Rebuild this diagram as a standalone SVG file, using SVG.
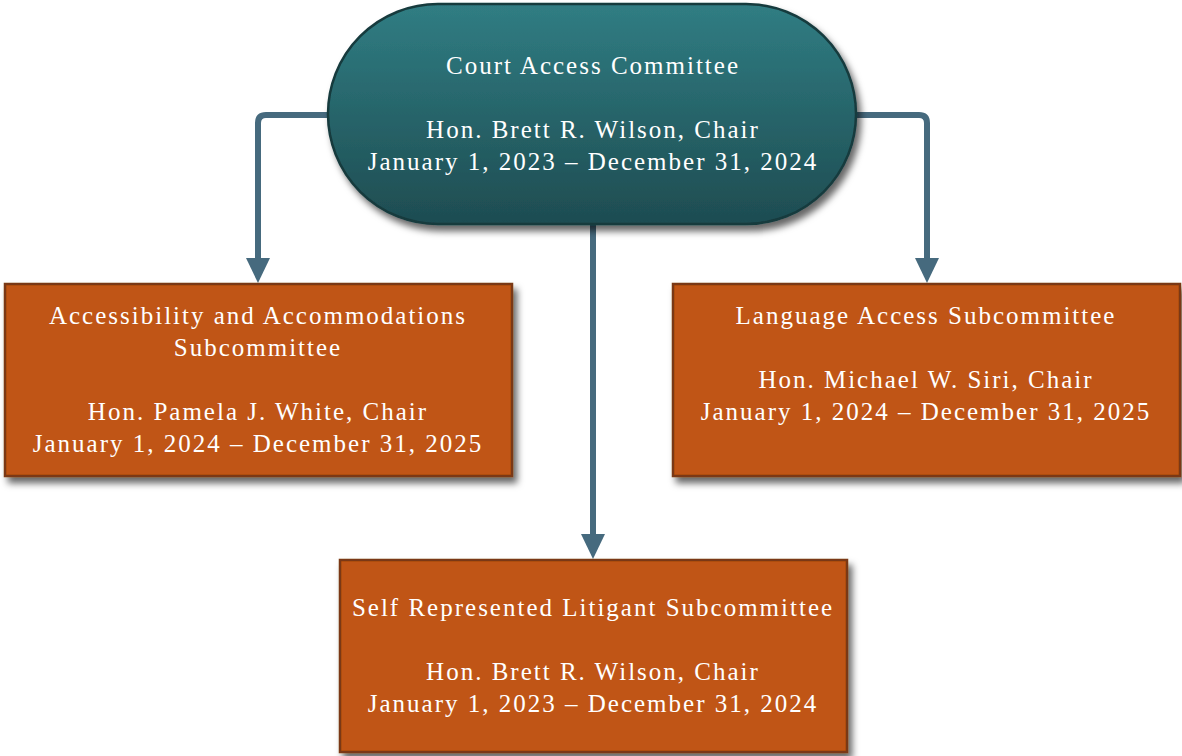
<svg xmlns="http://www.w3.org/2000/svg" width="1182" height="756" viewBox="0 0 1182 756">
<style>
.t{font-family:"Liberation Serif","Times New Roman",serif;font-size:25px;fill:#ffffff;text-anchor:middle;letter-spacing:2px}
.box{fill:#c05412;stroke:#7a3812;stroke-width:2.5}
.pill{fill:url(#pg);stroke:#173a3e;stroke-width:2.5}
.conn{fill:none;stroke:#466a7e;stroke-width:6;stroke-linejoin:round}
.ah{fill:#466a7e}
</style>
<defs>
<linearGradient id="pg" x1="0" y1="0" x2="0" y2="1">
<stop offset="0" stop-color="#307d83"/>
<stop offset="1" stop-color="#1e4c51"/>
</linearGradient>
<filter id="sh" x="-10%" y="-10%" width="125%" height="130%">
<feDropShadow dx="4" dy="6" stdDeviation="3.5" flood-color="#000" flood-opacity="0.6"/>
</filter>
</defs>
<g id="connectors">
<path class="conn" d="M330,115 L266,115 Q258,115 258,123 L258,258"/>
<path class="conn" d="M855,115 L919,115 Q927,115 927,123 L927,258"/>
<path class="conn" d="M593,224 L593,534"/>
<path class="ah" d="M246,258 L270,258 L258,283 Z"/>
<path class="ah" d="M915,258 L939,258 L927,283 Z"/>
<path class="ah" d="M581,534 L605,534 L593,559 Z"/>
</g>
<g id="court-access-committee">
<rect class="pill" x="328" y="4" width="528" height="220" rx="110" ry="110" filter="url(#sh)"/>
<text class="t" x="593" y="74">Court Access Committee</text>
<text class="t" x="593" y="138">Hon. Brett R. Wilson, Chair</text>
<text class="t" x="593" y="170">January 1, 2023 – December 31, 2024</text>
</g>
<g id="accessibility-subcommittee">
<rect class="box" x="5" y="284" width="507" height="192" filter="url(#sh)"/>
<text class="t" x="258" y="324">Accessibility and Accommodations</text>
<text class="t" x="258" y="356">Subcommittee</text>
<text class="t" x="258" y="420">Hon. Pamela J. White, Chair</text>
<text class="t" x="258" y="452">January 1, 2024 – December 31, 2025</text>
</g>
<g id="language-access-subcommittee">
<rect class="box" x="673" y="284" width="507" height="192" filter="url(#sh)"/>
<text class="t" x="926" y="324">Language Access Subcommittee</text>
<text class="t" x="926" y="388">Hon. Michael W. Siri, Chair</text>
<text class="t" x="926" y="420">January 1, 2024 – December 31, 2025</text>
</g>
<g id="self-represented-litigant-subcommittee">
<rect class="box" x="340" y="560" width="507" height="192" filter="url(#sh)"/>
<text class="t" x="593" y="616">Self Represented Litigant Subcommittee</text>
<text class="t" x="593" y="680">Hon. Brett R. Wilson, Chair</text>
<text class="t" x="593" y="712">January 1, 2023 – December 31, 2024</text>
</g>
</svg>
